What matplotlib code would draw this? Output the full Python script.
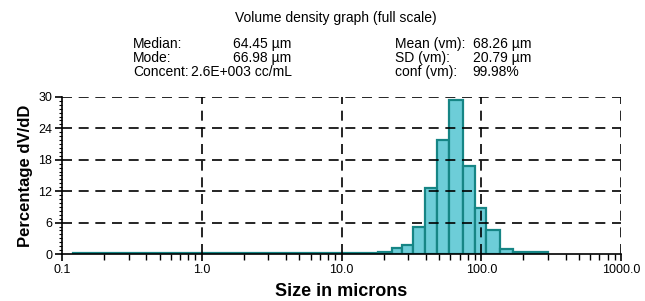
import matplotlib
matplotlib.use("Agg")
import matplotlib.pyplot as plt
from matplotlib.ticker import FixedLocator, LogLocator, NullFormatter, MultipleLocator

plt.rcParams['font.family'] = ['Liberation Sans', 'DejaVu Sans']

# bin edges (microns) and volume density (%)
bin_left = [0.12, 18.2, 23.0, 27.0, 32.3, 39.5, 48.0, 59.0, 73.6, 90.0, 108.0, 136.0, 169.0]
bin_right = [18.2, 23.0, 27.0, 32.3, 39.5, 48.0, 59.0, 73.6, 90.0, 108.0, 136.0, 169.0, 300.0]
density = [0.25, 0.45, 1.1, 1.8, 5.2, 12.6, 21.8, 29.4, 16.8, 8.7, 4.6, 1.0, 0.3]

x_ticks = [0.1, 1.0, 10.0, 100.0, 1000.0]
x_tick_labels = ["0.1", "1.0", "10.0", "100.0", "1000.0"]
y_ticks = [0, 6, 12, 18, 24, 30]

fig = plt.figure(figsize=(6.45, 3.01), dpi=100)
ax = fig.add_axes([0.096, 0.156, 0.867, 0.522])

widths = [r - l for l, r in zip(bin_left, bin_right)]
ax.bar(bin_left, density, width=widths, align='edge',
       color='#6dcdd8', edgecolor='#168585', linewidth=1.6, zorder=2)

ax.set_xscale('log')
ax.set_xlim(0.1, 1000)
ax.set_ylim(0, 30)

for y in y_ticks[1:]:
    ax.axhline(y, color='black', linestyle=(0, (6, 4)), linewidth=1.2, zorder=3)
for x in x_ticks[1:]:
    ax.axvline(x, color='black', linestyle=(0, (6, 4)), linewidth=1.2, zorder=3)

for s in ['top', 'right']:
    ax.spines[s].set_visible(False)
ax.spines['left'].set_linewidth(1.2)
ax.spines['bottom'].set_linewidth(1.2)
ax.spines['left'].set_zorder(4)
ax.spines['bottom'].set_zorder(4)

ax.xaxis.set_major_locator(FixedLocator(x_ticks))
ax.set_xticklabels(x_tick_labels)
ax.xaxis.set_minor_locator(LogLocator(base=10, subs=range(2, 10)))
ax.xaxis.set_minor_formatter(NullFormatter())
ax.set_yticks(y_ticks)
ax.yaxis.set_minor_locator(MultipleLocator(0.75))
ax.tick_params(axis='both', which='major', direction='out', length=5, width=1.2, labelsize=9, pad=2)
ax.tick_params(axis='x', which='minor', direction='out', length=4, width=1.0)
ax.tick_params(axis='y', which='minor', direction='out', length=2.5, width=0.8)

ax.set_xlabel('Size in microns', fontsize=13, fontweight='bold', labelpad=5)
ax.set_ylabel('Percentage dV/dD', fontsize=12, fontweight='bold', labelpad=4)

fs = 10
fig.text(0.521, 0.927, 'Volume density graph (full scale)', ha='center', va='baseline', fontsize=fs)
rows_y = [0.8395, 0.793, 0.7465]
left_labels = ['Median:', 'Mode:', 'Concent:']
left_values = ['64.45 \u00b5m', '66.98 \u00b5m', '2.6E+003 cc/mL']
right_labels = ['Mean (vm):', 'SD (vm):', 'conf (vm):']
right_values = ['68.26 \u00b5m', '20.79 \u00b5m', '99.98%']
for i, yy in enumerate(rows_y):
    fig.text(0.206, yy, left_labels[i], ha='left', va='baseline', fontsize=fs)
    vx = 0.361 if i < 2 else 0.296
    fig.text(vx, yy, left_values[i], ha='left', va='baseline', fontsize=fs)
    fig.text(0.612, yy, right_labels[i], ha='left', va='baseline', fontsize=fs)
    fig.text(0.733, yy, right_values[i], ha='left', va='baseline', fontsize=fs)

fig.savefig('out.png', dpi=100)
